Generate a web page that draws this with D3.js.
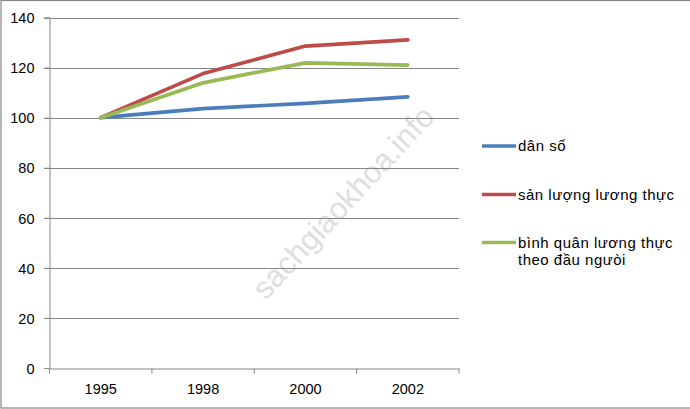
<!DOCTYPE html>
<html>
<head>
<meta charset="utf-8">
<script src="https://cdn.jsdelivr.net/npm/d3@7"></script>
<style>
  body { margin: 0; background: #fff; }
  text { font-family: "Liberation Sans", Arial, sans-serif; }
</style>
</head>
<body>
<div id="chart"></div>
<script>
var years = ["1995", "1998", "2000", "2002"];
var danSo = [100, 103.6, 105.7, 108.3];
var sanLuong = [100, 117.6, 128.6, 131.1];
var binhQuan = [100, 113.9, 121.9, 121.0];
var yTicks = [0, 20, 40, 60, 80, 100, 120, 140];
var seriesNames = ["dân số", "sản lượng lương thực", "bình quân lương thực\ntheo đầu ngưòi"];

function init() {
  var w = 690;
  var h = 409;

  var series = [
    { name: seriesNames[0], values: danSo, colour: "#4a7ebb" },
    { name: seriesNames[1], values: sanLuong, colour: "#be4b48" },
    { name: seriesNames[2], values: binhQuan, colour: "#98b954" }
  ];

  var svg = d3.select("#chart")
    .append("svg")
    .attr("width", w)
    .attr("height", h);

  // outer chart border
  svg.append("rect")
    .attr("x", 1).attr("y", 0.5)
    .attr("width", w + 10).attr("height", 407.5)
    .attr("fill", "none")
    .attr("stroke", "#868686")
    .attr("stroke-width", 1.2);

  var x = d3.scaleBand()
    .domain(years)
    .range([49.5, 459]);

  var y = d3.scaleLinear()
    .domain([0, 140])
    .range([368, 17.5]);

  // watermark
  svg.append("text")
    .attr("transform", "translate(345,204) rotate(-47)")
    .attr("text-anchor", "middle")
    .attr("dominant-baseline", "middle")
    .style("font-size", "31px")
    .style("fill", "#dedede")
    .text("sachgiaokhoa.info");

  // gridlines
  svg.selectAll(".grid")
    .data(yTicks.filter(function(d) { return d > 0; }))
    .enter()
    .append("line")
    .attr("x1", 44).attr("x2", 459)
    .attr("y1", function(d) { return Math.round(y(d)) + 0.5; })
    .attr("y2", function(d) { return Math.round(y(d)) + 0.5; })
    .attr("stroke", "#868686")
    .attr("stroke-width", 1);

  // y axis
  var yAxis = svg.append("g")
    .attr("transform", "translate(49.5,0)")
    .call(d3.axisLeft(y).tickValues(yTicks).tickSize(5).tickPadding(10));
  yAxis.select(".domain").attr("stroke", "#868686");
  yAxis.selectAll(".tick line").attr("stroke", "#868686");
  yAxis.selectAll(".tick text")
    .style("font-size", "14.5px")
    .style("fill", "#000")
    .attr("dy", "0.36em")
    .attr("y", 0);

  // x axis
  var xAxis = svg.append("g")
    .attr("transform", "translate(0," + (368.5) + ")")
    .call(d3.axisBottom(x).tickSize(0).tickPadding(0));
  xAxis.select(".domain").attr("stroke", "#868686");
  xAxis.selectAll(".tick text")
    .style("font-size", "14.5px")
    .style("fill", "#000")
    .attr("y", 25)
    .attr("dy", 0);
  // tick marks between categories
  xAxis.selectAll(".sep")
    .data(years.concat(["end"]))
    .enter()
    .append("line")
    .attr("class", "sep")
    .attr("x1", function(d, i) { return x.range()[0] + i * x.bandwidth(); })
    .attr("x2", function(d, i) { return x.range()[0] + i * x.bandwidth(); })
    .attr("y1", 0).attr("y2", 5)
    .attr("stroke", "#868686");

  // lines
  var line = d3.line()
    .x(function(d, i) { return x(years[i]) + x.bandwidth() / 2; })
    .y(function(d) { return y(d); });

  svg.selectAll(".series")
    .data(series)
    .enter()
    .append("path")
    .attr("class", "series")
    .attr("d", function(d) { return line(d.values); })
    .attr("fill", "none")
    .attr("stroke", function(d) { return d.colour; })
    .attr("stroke-width", 3.7)
    .attr("stroke-linejoin", "round")
    .attr("stroke-linecap", "round");

  // legend
  var legendY = [146, 194.5, 242.5];
  var legend = svg.selectAll(".legend")
    .data(series)
    .enter()
    .append("g")
    .attr("class", "legend")
    .attr("transform", function(d, i) { return "translate(482," + legendY[i] + ")"; });

  legend.append("line")
    .attr("x1", 0).attr("x2", 34)
    .attr("stroke", function(d) { return d.colour; })
    .attr("stroke-width", 3.7);

  legend.append("text")
    .attr("x", 36)
    .attr("y", 5)
    .style("font-size", "15px")
    .style("letter-spacing", "0.5px")
    .style("fill", "#000")
    .each(function(d) {
      var parts = d.name.split("\n");
      var t = d3.select(this);
      parts.forEach(function(p, k) {
        t.append("tspan")
          .attr("x", 36)
          .attr("dy", k === 0 ? 0 : 17)
          .text(p);
      });
    });
}

window.onload = init;
</script>
</body>
</html>
